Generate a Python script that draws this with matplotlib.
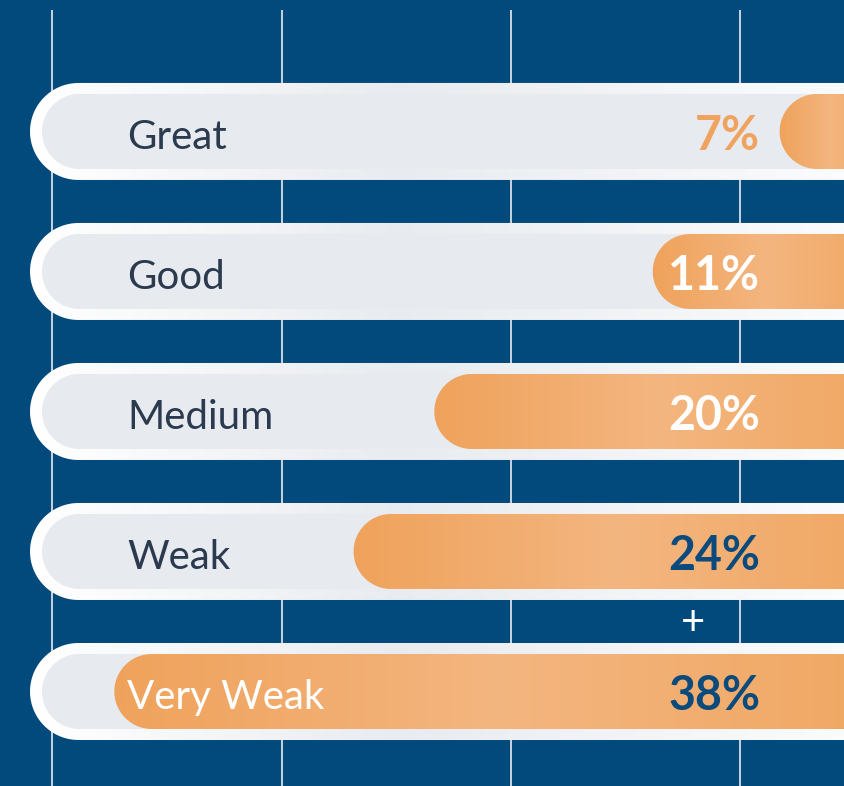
import numpy as np
import matplotlib.pyplot as plt
from matplotlib.patches import Polygon
from matplotlib.collections import PolyCollection
from matplotlib.transforms import IdentityTransform, blended_transform_factory
from matplotlib.colors import to_rgb

categories = ["Great", "Good", "Medium", "Weak", "Very Weak"]
values = [7, 11, 20, 24, 38]
value_labels = ["7%", "11%", "20%", "24%", "38%"]
value_colors = ["#f0a35e", "white", "white", "#0b4a7c", "#0b4a7c"]
label_colors = ["#2b3a4e", "#2b3a4e", "#2b3a4e", "#2b3a4e", "white"]

NAVY = "#024a7b"
W, H = 845, 786

fig = plt.figure(figsize=(W / 100, H / 100), dpi=100, facecolor=NAVY)
ax = fig.add_axes([0, 0, 1, 1])
ax.axis("off")
ax.set_xscale("function", functions=(np.sqrt, np.square))
ax.set_xlim(45.82, 5.29)
ax.set_ylim(4.675, -0.939)

ident = IdentityTransform()


def pill(x0, x1, yc, r, n=60):
    th = np.linspace(np.pi / 2, 3 * np.pi / 2, n)
    pts = np.column_stack([x0 + r + r * np.cos(th), yc + r * np.sin(th)])
    pts = np.vstack([pts, [[x1, yc - r], [x1, yc + r]]])
    return pts


def gradient(ax, shape, x0, x1, yc, r, stops, z):
    patch = Polygon(shape, closed=True, transform=ident, facecolor="none", edgecolor="none")
    ax.add_patch(patch)
    xs = np.arange(np.floor(x0) - 1, min(x1, W + 2), 1.0)
    ts = np.clip((xs - x0) / (x1 - x0), 0, 1)
    pos = [s[0] for s in stops]
    cols = np.array([to_rgb(s[1]) for s in stops])
    rgb = np.column_stack([np.interp(ts, pos, cols[:, k]) for k in range(3)])
    verts = [[(x, yc - r - 1), (x + 1.2, yc - r - 1), (x + 1.2, yc + r + 1), (x, yc + r + 1)] for x in xs]
    pc = PolyCollection(verts, facecolors=rgb, edgecolors="none", antialiased=False,
                        transform=ident, zorder=z)
    pc.set_clip_path(patch)
    ax.add_collection(pc)


# grid lines
for gx in [52, 282, 511, 740]:
    ax.plot([gx / W, gx / W], [0, 1 - 10 / H], color="#c9d4df", lw=1.4,
            transform=ax.transAxes, zorder=1, solid_capstyle="butt")

border_stops = [(0, "#ffffff"), (0.45, "#e8ebef"), (1, "#fafbfc")]
orange_stops = [(0, "#efa25b"), (0.5, "#f3b57f"), (1, "#f0a762")]

for i, (cat, v) in enumerate(zip(categories, values)):
    left, yc = ax.transData.transform((v, i))
    right = ax.transData.transform((0, i))[0]
    # outer white pill
    gradient(ax, pill(30, W + 60, yc, 48.5), 30, W, yc, 48.5, border_stops, 2)
    # inner gray track
    ax.add_patch(Polygon(pill(42, W + 60, yc, 37.5), closed=True, transform=ident,
                         facecolor="#e7eaef", edgecolor="none", zorder=3))
    # orange value bar
    gradient(ax, pill(left, right, yc, 37.5), left, 880, yc, 37.5, orange_stops, 4)

tr = blended_transform_factory(ax.transAxes, ax.transData)
for i, cat in enumerate(categories):
    ax.text(127 / W, i + 0.045, cat, transform=tr, ha="left", va="center",
            fontsize=29, family="Lato", color=label_colors[i], zorder=6)
    ax.text(760 / W, i + 0.03, value_labels[i], transform=tr, ha="right", va="center",
            fontsize=33.5, family="Lato", fontweight="bold", color=value_colors[i], zorder=6)

ax.text(693 / W, 3.51, "+", transform=tr, ha="center", va="center",
        fontsize=30, family="Lato", color="white", zorder=6)

fig.savefig("out.png", dpi=100, facecolor=NAVY)
